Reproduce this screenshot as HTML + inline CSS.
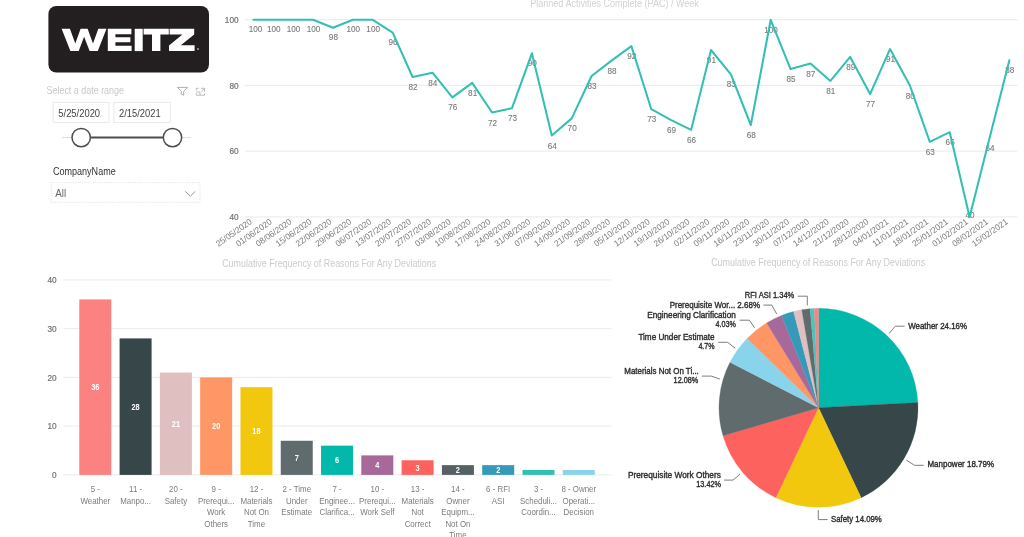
<!DOCTYPE html>
<html><head><meta charset="utf-8"><title>Dashboard</title>
<style>
html,body{margin:0;padding:0;background:#fff;}
body{width:1024px;height:537px;overflow:hidden;font-family:"Liberation Sans",sans-serif;}
svg{display:block;font-family:"Liberation Sans",sans-serif;filter:blur(0.45px);}
</style></head><body>
<svg width="1024" height="537" viewBox="0 0 1024 537">
<rect width="1024" height="537" fill="#fff"/>
<g id="logo">
<rect x="48.4" y="6" width="160.6" height="66.6" rx="8" ry="8" fill="#231f20"/>
<path fill="#fff" d="M61.6,28.8 L69.9,28.8 L75.3,43.5 L80.6,28.8 L87.6,28.8 L93,43.5 L98.3,28.8 L106.5,28.8 L97.8,51.1 L89.6,51.1 L84.1,36.8 L78.7,51.1 L70.4,51.1 Z"/>
<path fill="#fff" d="M107.8,28.8 H131.4 V34.2 H115.4 V37.3 H130.4 V42.3 H115.4 V45.7 H131.6 V51.1 H107.8 Z"/>
<rect fill="#fff" x="134.7" y="28.8" width="8" height="22.3"/>
<path fill="#fff" d="M143.6,28.8 H168.8 V34.6 H160.4 V51.1 H152 V34.6 H143.6 Z"/>
<path fill="#fff" d="M169.6,28.8 H194.2 V34.4 L180.8,45.3 H194.6 V51.1 H169 V45.5 L182.4,34.6 H169.6 Z"/>
<circle cx="198" cy="49" r="1.1" fill="#999"/>
</g>
<g id="slicer">
<text x="46.50" y="93.70" font-size="10" fill="#c8c8c8" text-anchor="start" textLength="77.5" lengthAdjust="spacingAndGlyphs" >Select a date range</text>
<path d="M177.4,87.4 H187.5 L183.7,91.4 V95.2 L181.2,94.2 V91.4 Z" fill="none" stroke="#9a9a9a" stroke-width="0.8" stroke-linejoin="round"/>
<path d="M196.3,90.5 V88.3 H198.6 M201,88.3 H204.6 V91.8 M204.6,88.3 L201.4,91.5 M204.6,93.6 V95.2 H196.3 V93 M200,95.2 V92 H196.3" fill="none" stroke="#aaa" stroke-width="0.8"/>
<rect x="53.2" y="102.5" width="55.8" height="20" fill="#fff" stroke="#e6e6e6" stroke-width="0.8"/>
<rect x="113.9" y="102.5" width="56.4" height="20" fill="#fff" stroke="#e6e6e6" stroke-width="0.8"/>
<text x="58.30" y="117.20" font-size="10" fill="#444" text-anchor="start" textLength="41.8" lengthAdjust="spacingAndGlyphs" >5/25/2020</text>
<text x="119.00" y="117.20" font-size="10" fill="#444" text-anchor="start" textLength="41.6" lengthAdjust="spacingAndGlyphs" >2/15/2021</text>
<line x1="62" y1="137.6" x2="191" y2="137.6" stroke="#ddd" stroke-width="1"/>
<line x1="81.2" y1="137.6" x2="172.5" y2="137.6" stroke="#4d4d4d" stroke-width="2"/>
<circle cx="81.2" cy="137.6" r="9.2" fill="#fff" stroke="#4d4d4d" stroke-width="1.5"/>
<circle cx="172.5" cy="137.6" r="9.2" fill="#fff" stroke="#4d4d4d" stroke-width="1.5"/>
<text x="53.00" y="175.00" font-size="10" fill="#333" text-anchor="start" textLength="62.7" lengthAdjust="spacingAndGlyphs" >CompanyName</text>
<rect x="51.2" y="182.6" width="148.8" height="19.7" fill="#fff" stroke="#e0e0e0" stroke-width="0.8" stroke-dasharray="1.2,1"/>
<text x="55.20" y="197.30" font-size="10" fill="#666" text-anchor="start" textLength="11.0" lengthAdjust="spacingAndGlyphs" >All</text>
<path d="M185.4,191.4 L190.3,196.2 L195.2,191.4" fill="none" stroke="#888" stroke-width="0.9"/>
</g>
<g id="linechart">
<text x="530.30" y="6.50" font-size="10" fill="#d2d2d2" text-anchor="start" textLength="168.5" lengthAdjust="spacingAndGlyphs" >Planned Activities Complete (PAC) / Week</text>
<line x1="245" y1="19.7" x2="1017.5" y2="19.7" stroke="#e4e4e4" stroke-width="0.8"/>
<text transform="translate(238.60,23.00) scale(0.87,1)" font-size="9.5" fill="#707070" text-anchor="end" stroke="#707070" stroke-width="0.2">100</text>
<line x1="245" y1="85.4" x2="1017.5" y2="85.4" stroke="#e4e4e4" stroke-width="0.8"/>
<text transform="translate(238.60,88.70) scale(0.87,1)" font-size="9.5" fill="#707070" text-anchor="end" stroke="#707070" stroke-width="0.2">80</text>
<line x1="245" y1="151.1" x2="1017.5" y2="151.1" stroke="#e4e4e4" stroke-width="0.8"/>
<text transform="translate(238.60,154.40) scale(0.87,1)" font-size="9.5" fill="#707070" text-anchor="end" stroke="#707070" stroke-width="0.2">60</text>
<line x1="245" y1="216.9" x2="1017.5" y2="216.9" stroke="#e4e4e4" stroke-width="0.8"/>
<text transform="translate(238.60,220.20) scale(0.87,1)" font-size="9.5" fill="#707070" text-anchor="end" stroke="#707070" stroke-width="0.2">40</text>
<text transform="translate(255.60,32.10) scale(0.85,1)" font-size="9.6" fill="#7a7a7a" text-anchor="middle" stroke="#7a7a7a" stroke-width="0.12">100</text>
<text transform="translate(273.69,32.10) scale(0.85,1)" font-size="9.6" fill="#7a7a7a" text-anchor="middle" stroke="#7a7a7a" stroke-width="0.12">100</text>
<text transform="translate(293.59,32.10) scale(0.85,1)" font-size="9.6" fill="#7a7a7a" text-anchor="middle" stroke="#7a7a7a" stroke-width="0.12">100</text>
<text transform="translate(313.49,32.10) scale(0.85,1)" font-size="9.6" fill="#7a7a7a" text-anchor="middle" stroke="#7a7a7a" stroke-width="0.12">100</text>
<text transform="translate(333.38,39.99) scale(0.85,1)" font-size="9.6" fill="#7a7a7a" text-anchor="middle" stroke="#7a7a7a" stroke-width="0.12">98</text>
<text transform="translate(353.27,32.10) scale(0.85,1)" font-size="9.6" fill="#7a7a7a" text-anchor="middle" stroke="#7a7a7a" stroke-width="0.12">100</text>
<text transform="translate(373.17,32.10) scale(0.85,1)" font-size="9.6" fill="#7a7a7a" text-anchor="middle" stroke="#7a7a7a" stroke-width="0.12">100</text>
<text transform="translate(393.06,44.92) scale(0.85,1)" font-size="9.6" fill="#7a7a7a" text-anchor="middle" stroke="#7a7a7a" stroke-width="0.12">96</text>
<text transform="translate(412.96,90.00) scale(0.85,1)" font-size="9.6" fill="#7a7a7a" text-anchor="middle" stroke="#7a7a7a" stroke-width="0.12">82</text>
<text transform="translate(432.86,85.73) scale(0.85,1)" font-size="9.6" fill="#7a7a7a" text-anchor="middle" stroke="#7a7a7a" stroke-width="0.12">84</text>
<text transform="translate(452.75,110.38) scale(0.85,1)" font-size="9.6" fill="#7a7a7a" text-anchor="middle" stroke="#7a7a7a" stroke-width="0.12">76</text>
<text transform="translate(472.64,95.92) scale(0.85,1)" font-size="9.6" fill="#7a7a7a" text-anchor="middle" stroke="#7a7a7a" stroke-width="0.12">81</text>
<text transform="translate(492.54,125.51) scale(0.85,1)" font-size="9.6" fill="#7a7a7a" text-anchor="middle" stroke="#7a7a7a" stroke-width="0.12">72</text>
<text transform="translate(512.43,121.23) scale(0.85,1)" font-size="9.6" fill="#7a7a7a" text-anchor="middle" stroke="#7a7a7a" stroke-width="0.12">73</text>
<text transform="translate(532.33,66.33) scale(0.85,1)" font-size="9.6" fill="#7a7a7a" text-anchor="middle" stroke="#7a7a7a" stroke-width="0.12">90</text>
<text transform="translate(552.23,148.52) scale(0.85,1)" font-size="9.6" fill="#7a7a7a" text-anchor="middle" stroke="#7a7a7a" stroke-width="0.12">64</text>
<text transform="translate(572.12,131.42) scale(0.85,1)" font-size="9.6" fill="#7a7a7a" text-anchor="middle" stroke="#7a7a7a" stroke-width="0.12">70</text>
<text transform="translate(592.01,89.02) scale(0.85,1)" font-size="9.6" fill="#7a7a7a" text-anchor="middle" stroke="#7a7a7a" stroke-width="0.12">83</text>
<text transform="translate(611.91,73.57) scale(0.85,1)" font-size="9.6" fill="#7a7a7a" text-anchor="middle" stroke="#7a7a7a" stroke-width="0.12">88</text>
<text transform="translate(631.80,59.10) scale(0.85,1)" font-size="9.6" fill="#7a7a7a" text-anchor="middle" stroke="#7a7a7a" stroke-width="0.12">92</text>
<text transform="translate(651.70,122.22) scale(0.85,1)" font-size="9.6" fill="#7a7a7a" text-anchor="middle" stroke="#7a7a7a" stroke-width="0.12">73</text>
<text transform="translate(671.60,133.07) scale(0.85,1)" font-size="9.6" fill="#7a7a7a" text-anchor="middle" stroke="#7a7a7a" stroke-width="0.12">69</text>
<text transform="translate(691.49,142.93) scale(0.85,1)" font-size="9.6" fill="#7a7a7a" text-anchor="middle" stroke="#7a7a7a" stroke-width="0.12">66</text>
<text transform="translate(711.38,63.05) scale(0.85,1)" font-size="9.6" fill="#7a7a7a" text-anchor="middle" stroke="#7a7a7a" stroke-width="0.12">91</text>
<text transform="translate(731.28,87.37) scale(0.85,1)" font-size="9.6" fill="#7a7a7a" text-anchor="middle" stroke="#7a7a7a" stroke-width="0.12">83</text>
<text transform="translate(751.17,138.00) scale(0.85,1)" font-size="9.6" fill="#7a7a7a" text-anchor="middle" stroke="#7a7a7a" stroke-width="0.12">68</text>
<text transform="translate(771.07,32.80) scale(0.85,1)" font-size="9.6" fill="#7a7a7a" text-anchor="middle" stroke="#7a7a7a" stroke-width="0.12">100</text>
<text transform="translate(790.96,82.11) scale(0.85,1)" font-size="9.6" fill="#7a7a7a" text-anchor="middle" stroke="#7a7a7a" stroke-width="0.12">85</text>
<text transform="translate(810.86,76.52) scale(0.85,1)" font-size="9.6" fill="#7a7a7a" text-anchor="middle" stroke="#7a7a7a" stroke-width="0.12">87</text>
<text transform="translate(830.75,93.95) scale(0.85,1)" font-size="9.6" fill="#7a7a7a" text-anchor="middle" stroke="#7a7a7a" stroke-width="0.12">81</text>
<text transform="translate(850.65,69.95) scale(0.85,1)" font-size="9.6" fill="#7a7a7a" text-anchor="middle" stroke="#7a7a7a" stroke-width="0.12">89</text>
<text transform="translate(870.54,107.10) scale(0.85,1)" font-size="9.6" fill="#7a7a7a" text-anchor="middle" stroke="#7a7a7a" stroke-width="0.12">77</text>
<text transform="translate(890.44,62.06) scale(0.85,1)" font-size="9.6" fill="#7a7a7a" text-anchor="middle" stroke="#7a7a7a" stroke-width="0.12">91</text>
<text transform="translate(910.33,98.55) scale(0.85,1)" font-size="9.6" fill="#7a7a7a" text-anchor="middle" stroke="#7a7a7a" stroke-width="0.12">80</text>
<text transform="translate(930.23,154.77) scale(0.85,1)" font-size="9.6" fill="#7a7a7a" text-anchor="middle" stroke="#7a7a7a" stroke-width="0.12">63</text>
<text transform="translate(950.12,145.23) scale(0.85,1)" font-size="9.6" fill="#7a7a7a" text-anchor="middle" stroke="#7a7a7a" stroke-width="0.12">66</text>
<text transform="translate(970.02,218.35) scale(0.85,1)" font-size="9.6" fill="#7a7a7a" text-anchor="middle" stroke="#7a7a7a" stroke-width="0.12">40</text>
<text transform="translate(989.91,151.15) scale(0.85,1)" font-size="9.6" fill="#7a7a7a" text-anchor="middle" stroke="#7a7a7a" stroke-width="0.12">64</text>
<text transform="translate(1009.81,73.24) scale(0.85,1)" font-size="9.6" fill="#7a7a7a" text-anchor="middle" stroke="#7a7a7a" stroke-width="0.12">88</text>
<polyline fill="none" stroke="#33c0b3" stroke-width="2.05" stroke-linejoin="round" stroke-linecap="round" points="253.4,19.8 273.3,19.8 293.2,19.8 313.1,19.8 333.0,27.7 352.9,19.8 372.8,19.8 392.7,32.6 412.6,77.0 432.5,72.7 452.4,97.4 472.2,82.9 492.1,112.5 512.0,108.2 531.9,53.3 551.8,135.5 571.7,118.4 591.6,76.0 611.5,60.6 631.4,46.1 651.3,109.2 671.2,120.1 691.1,129.9 711.0,50.0 730.9,74.4 750.8,125.0 770.7,19.8 790.6,69.1 810.5,63.5 830.4,80.9 850.2,56.9 870.1,94.1 890.0,49.1 909.9,85.5 929.8,141.8 949.7,132.2 969.6,217.1 989.5,138.2 1009.4,60.2"/>
<text transform="translate(252.6,223.1) rotate(-35)" font-size="8.7" fill="#7c7c7c" text-anchor="end" textLength="41.6" lengthAdjust="spacingAndGlyphs">25/05/2020</text>
<text transform="translate(272.5,223.1) rotate(-35)" font-size="8.7" fill="#7c7c7c" text-anchor="end" textLength="41.6" lengthAdjust="spacingAndGlyphs">01/06/2020</text>
<text transform="translate(292.4,223.1) rotate(-35)" font-size="8.7" fill="#7c7c7c" text-anchor="end" textLength="41.6" lengthAdjust="spacingAndGlyphs">08/06/2020</text>
<text transform="translate(312.3,223.1) rotate(-35)" font-size="8.7" fill="#7c7c7c" text-anchor="end" textLength="41.6" lengthAdjust="spacingAndGlyphs">15/06/2020</text>
<text transform="translate(332.2,223.1) rotate(-35)" font-size="8.7" fill="#7c7c7c" text-anchor="end" textLength="41.6" lengthAdjust="spacingAndGlyphs">22/06/2020</text>
<text transform="translate(352.1,223.1) rotate(-35)" font-size="8.7" fill="#7c7c7c" text-anchor="end" textLength="41.6" lengthAdjust="spacingAndGlyphs">29/06/2020</text>
<text transform="translate(372.0,223.1) rotate(-35)" font-size="8.7" fill="#7c7c7c" text-anchor="end" textLength="41.6" lengthAdjust="spacingAndGlyphs">06/07/2020</text>
<text transform="translate(391.9,223.1) rotate(-35)" font-size="8.7" fill="#7c7c7c" text-anchor="end" textLength="41.6" lengthAdjust="spacingAndGlyphs">13/07/2020</text>
<text transform="translate(411.8,223.1) rotate(-35)" font-size="8.7" fill="#7c7c7c" text-anchor="end" textLength="41.6" lengthAdjust="spacingAndGlyphs">20/07/2020</text>
<text transform="translate(431.7,223.1) rotate(-35)" font-size="8.7" fill="#7c7c7c" text-anchor="end" textLength="41.6" lengthAdjust="spacingAndGlyphs">27/07/2020</text>
<text transform="translate(451.6,223.1) rotate(-35)" font-size="8.7" fill="#7c7c7c" text-anchor="end" textLength="41.6" lengthAdjust="spacingAndGlyphs">03/08/2020</text>
<text transform="translate(471.4,223.1) rotate(-35)" font-size="8.7" fill="#7c7c7c" text-anchor="end" textLength="41.6" lengthAdjust="spacingAndGlyphs">10/08/2020</text>
<text transform="translate(491.3,223.1) rotate(-35)" font-size="8.7" fill="#7c7c7c" text-anchor="end" textLength="41.6" lengthAdjust="spacingAndGlyphs">17/08/2020</text>
<text transform="translate(511.2,223.1) rotate(-35)" font-size="8.7" fill="#7c7c7c" text-anchor="end" textLength="41.6" lengthAdjust="spacingAndGlyphs">24/08/2020</text>
<text transform="translate(531.1,223.1) rotate(-35)" font-size="8.7" fill="#7c7c7c" text-anchor="end" textLength="41.6" lengthAdjust="spacingAndGlyphs">31/08/2020</text>
<text transform="translate(551.0,223.1) rotate(-35)" font-size="8.7" fill="#7c7c7c" text-anchor="end" textLength="41.6" lengthAdjust="spacingAndGlyphs">07/09/2020</text>
<text transform="translate(570.9,223.1) rotate(-35)" font-size="8.7" fill="#7c7c7c" text-anchor="end" textLength="41.6" lengthAdjust="spacingAndGlyphs">14/09/2020</text>
<text transform="translate(590.8,223.1) rotate(-35)" font-size="8.7" fill="#7c7c7c" text-anchor="end" textLength="41.6" lengthAdjust="spacingAndGlyphs">21/09/2020</text>
<text transform="translate(610.7,223.1) rotate(-35)" font-size="8.7" fill="#7c7c7c" text-anchor="end" textLength="41.6" lengthAdjust="spacingAndGlyphs">28/09/2020</text>
<text transform="translate(630.6,223.1) rotate(-35)" font-size="8.7" fill="#7c7c7c" text-anchor="end" textLength="41.6" lengthAdjust="spacingAndGlyphs">05/10/2020</text>
<text transform="translate(650.5,223.1) rotate(-35)" font-size="8.7" fill="#7c7c7c" text-anchor="end" textLength="41.6" lengthAdjust="spacingAndGlyphs">12/10/2020</text>
<text transform="translate(670.4,223.1) rotate(-35)" font-size="8.7" fill="#7c7c7c" text-anchor="end" textLength="41.6" lengthAdjust="spacingAndGlyphs">19/10/2020</text>
<text transform="translate(690.3,223.1) rotate(-35)" font-size="8.7" fill="#7c7c7c" text-anchor="end" textLength="41.6" lengthAdjust="spacingAndGlyphs">26/10/2020</text>
<text transform="translate(710.2,223.1) rotate(-35)" font-size="8.7" fill="#7c7c7c" text-anchor="end" textLength="41.6" lengthAdjust="spacingAndGlyphs">02/11/2020</text>
<text transform="translate(730.1,223.1) rotate(-35)" font-size="8.7" fill="#7c7c7c" text-anchor="end" textLength="41.6" lengthAdjust="spacingAndGlyphs">09/11/2020</text>
<text transform="translate(750.0,223.1) rotate(-35)" font-size="8.7" fill="#7c7c7c" text-anchor="end" textLength="41.6" lengthAdjust="spacingAndGlyphs">16/11/2020</text>
<text transform="translate(769.9,223.1) rotate(-35)" font-size="8.7" fill="#7c7c7c" text-anchor="end" textLength="41.6" lengthAdjust="spacingAndGlyphs">23/11/2020</text>
<text transform="translate(789.8,223.1) rotate(-35)" font-size="8.7" fill="#7c7c7c" text-anchor="end" textLength="41.6" lengthAdjust="spacingAndGlyphs">30/11/2020</text>
<text transform="translate(809.7,223.1) rotate(-35)" font-size="8.7" fill="#7c7c7c" text-anchor="end" textLength="41.6" lengthAdjust="spacingAndGlyphs">07/12/2020</text>
<text transform="translate(829.6,223.1) rotate(-35)" font-size="8.7" fill="#7c7c7c" text-anchor="end" textLength="41.6" lengthAdjust="spacingAndGlyphs">14/12/2020</text>
<text transform="translate(849.5,223.1) rotate(-35)" font-size="8.7" fill="#7c7c7c" text-anchor="end" textLength="41.6" lengthAdjust="spacingAndGlyphs">21/12/2020</text>
<text transform="translate(869.3,223.1) rotate(-35)" font-size="8.7" fill="#7c7c7c" text-anchor="end" textLength="41.6" lengthAdjust="spacingAndGlyphs">28/12/2020</text>
<text transform="translate(889.2,223.1) rotate(-35)" font-size="8.7" fill="#7c7c7c" text-anchor="end" textLength="41.6" lengthAdjust="spacingAndGlyphs">04/01/2021</text>
<text transform="translate(909.1,223.1) rotate(-35)" font-size="8.7" fill="#7c7c7c" text-anchor="end" textLength="41.6" lengthAdjust="spacingAndGlyphs">11/01/2021</text>
<text transform="translate(929.0,223.1) rotate(-35)" font-size="8.7" fill="#7c7c7c" text-anchor="end" textLength="41.6" lengthAdjust="spacingAndGlyphs">18/01/2021</text>
<text transform="translate(948.9,223.1) rotate(-35)" font-size="8.7" fill="#7c7c7c" text-anchor="end" textLength="41.6" lengthAdjust="spacingAndGlyphs">25/01/2021</text>
<text transform="translate(968.8,223.1) rotate(-35)" font-size="8.7" fill="#7c7c7c" text-anchor="end" textLength="41.6" lengthAdjust="spacingAndGlyphs">01/02/2021</text>
<text transform="translate(988.7,223.1) rotate(-35)" font-size="8.7" fill="#7c7c7c" text-anchor="end" textLength="41.6" lengthAdjust="spacingAndGlyphs">08/02/2021</text>
<text transform="translate(1008.6,223.1) rotate(-35)" font-size="8.7" fill="#7c7c7c" text-anchor="end" textLength="41.6" lengthAdjust="spacingAndGlyphs">15/02/2021</text>
</g>
<g id="barchart">
<text x="222.20" y="267.30" font-size="10" fill="#cbcbcb" text-anchor="start" textLength="214.0" lengthAdjust="spacingAndGlyphs" >Cumulative Frequency of Reasons For Any Deviations</text>
<line x1="63.4" y1="474.90" x2="611.5" y2="474.90" stroke="#e6e6e6" stroke-width="0.8"/>
<text transform="translate(56.60,478.20) scale(0.87,1)" font-size="9.5" fill="#707070" text-anchor="end" stroke="#707070" stroke-width="0.2">0</text>
<line x1="63.4" y1="426.15" x2="611.5" y2="426.15" stroke="#e6e6e6" stroke-width="0.8"/>
<text transform="translate(56.60,429.45) scale(0.87,1)" font-size="9.5" fill="#707070" text-anchor="end" stroke="#707070" stroke-width="0.2">10</text>
<line x1="63.4" y1="377.40" x2="611.5" y2="377.40" stroke="#e6e6e6" stroke-width="0.8"/>
<text transform="translate(56.60,380.70) scale(0.87,1)" font-size="9.5" fill="#707070" text-anchor="end" stroke="#707070" stroke-width="0.2">20</text>
<line x1="63.4" y1="328.65" x2="611.5" y2="328.65" stroke="#e6e6e6" stroke-width="0.8"/>
<text transform="translate(56.60,331.95) scale(0.87,1)" font-size="9.5" fill="#707070" text-anchor="end" stroke="#707070" stroke-width="0.2">30</text>
<line x1="63.4" y1="279.90" x2="611.5" y2="279.90" stroke="#e6e6e6" stroke-width="0.8"/>
<text transform="translate(56.60,283.20) scale(0.87,1)" font-size="9.5" fill="#707070" text-anchor="end" stroke="#707070" stroke-width="0.2">40</text>
<rect x="79.30" y="299.40" width="32" height="175.50" fill="#FB8281"/>
<text transform="translate(95.30,390.15) scale(0.88,1)" font-size="8.4" fill="#fff" text-anchor="middle" font-weight="bold" >36</text>
<text transform="translate(95.30,492.40) scale(0.9,1)" font-size="8.8" fill="#7c7c7c" text-anchor="middle" >5 -</text>
<text transform="translate(95.30,503.80) scale(0.9,1)" font-size="8.8" fill="#7c7c7c" text-anchor="middle" >Weather</text>
<rect x="119.59" y="338.40" width="32" height="136.50" fill="#374649"/>
<text transform="translate(135.59,409.65) scale(0.88,1)" font-size="8.4" fill="#fff" text-anchor="middle" font-weight="bold" >28</text>
<text transform="translate(135.59,492.40) scale(0.9,1)" font-size="8.8" fill="#7c7c7c" text-anchor="middle" >11 -</text>
<text transform="translate(135.59,503.80) scale(0.9,1)" font-size="8.8" fill="#7c7c7c" text-anchor="middle" >Manpo...</text>
<rect x="159.88" y="372.52" width="32" height="102.38" fill="#DFBFBF"/>
<text transform="translate(175.88,426.71) scale(0.88,1)" font-size="8.4" fill="#fff" text-anchor="middle" font-weight="bold" >21</text>
<text transform="translate(175.88,492.40) scale(0.9,1)" font-size="8.8" fill="#7c7c7c" text-anchor="middle" >20 -</text>
<text transform="translate(175.88,503.80) scale(0.9,1)" font-size="8.8" fill="#7c7c7c" text-anchor="middle" >Safety</text>
<rect x="200.17" y="377.40" width="32" height="97.50" fill="#FE9666"/>
<text transform="translate(216.17,429.15) scale(0.88,1)" font-size="8.4" fill="#fff" text-anchor="middle" font-weight="bold" >20</text>
<text transform="translate(216.17,492.40) scale(0.9,1)" font-size="8.8" fill="#7c7c7c" text-anchor="middle" >9 -</text>
<text transform="translate(216.17,503.80) scale(0.9,1)" font-size="8.8" fill="#7c7c7c" text-anchor="middle" >Prerequi...</text>
<text transform="translate(216.17,515.20) scale(0.9,1)" font-size="8.8" fill="#7c7c7c" text-anchor="middle" >Work</text>
<text transform="translate(216.17,526.60) scale(0.9,1)" font-size="8.8" fill="#7c7c7c" text-anchor="middle" >Others</text>
<rect x="240.46" y="387.15" width="32" height="87.75" fill="#F2C80F"/>
<text transform="translate(256.46,434.02) scale(0.88,1)" font-size="8.4" fill="#fff" text-anchor="middle" font-weight="bold" >18</text>
<text transform="translate(256.46,492.40) scale(0.9,1)" font-size="8.8" fill="#7c7c7c" text-anchor="middle" >12 -</text>
<text transform="translate(256.46,503.80) scale(0.9,1)" font-size="8.8" fill="#7c7c7c" text-anchor="middle" >Materials</text>
<text transform="translate(256.46,515.20) scale(0.9,1)" font-size="8.8" fill="#7c7c7c" text-anchor="middle" >Not On</text>
<text transform="translate(256.46,526.60) scale(0.9,1)" font-size="8.8" fill="#7c7c7c" text-anchor="middle" >Time</text>
<rect x="280.75" y="440.77" width="32" height="34.12" fill="#5F6B6D"/>
<text transform="translate(296.75,460.84) scale(0.88,1)" font-size="8.4" fill="#fff" text-anchor="middle" font-weight="bold" >7</text>
<text transform="translate(296.75,492.40) scale(0.9,1)" font-size="8.8" fill="#7c7c7c" text-anchor="middle" >2 - Time</text>
<text transform="translate(296.75,503.80) scale(0.9,1)" font-size="8.8" fill="#7c7c7c" text-anchor="middle" >Under</text>
<text transform="translate(296.75,515.20) scale(0.9,1)" font-size="8.8" fill="#7c7c7c" text-anchor="middle" >Estimate</text>
<rect x="321.04" y="445.65" width="32" height="29.25" fill="#01B8AA"/>
<text transform="translate(337.04,463.27) scale(0.88,1)" font-size="8.4" fill="#fff" text-anchor="middle" font-weight="bold" >6</text>
<text transform="translate(337.04,492.40) scale(0.9,1)" font-size="8.8" fill="#7c7c7c" text-anchor="middle" >7 -</text>
<text transform="translate(337.04,503.80) scale(0.9,1)" font-size="8.8" fill="#7c7c7c" text-anchor="middle" >Enginee...</text>
<text transform="translate(337.04,515.20) scale(0.9,1)" font-size="8.8" fill="#7c7c7c" text-anchor="middle" >Clarifica...</text>
<rect x="361.33" y="455.40" width="32" height="19.50" fill="#A66999"/>
<text transform="translate(377.33,468.15) scale(0.88,1)" font-size="8.4" fill="#fff" text-anchor="middle" font-weight="bold" >4</text>
<text transform="translate(377.33,492.40) scale(0.9,1)" font-size="8.8" fill="#7c7c7c" text-anchor="middle" >10 -</text>
<text transform="translate(377.33,503.80) scale(0.9,1)" font-size="8.8" fill="#7c7c7c" text-anchor="middle" >Prerequi...</text>
<text transform="translate(377.33,515.20) scale(0.9,1)" font-size="8.8" fill="#7c7c7c" text-anchor="middle" >Work Self</text>
<rect x="401.62" y="460.27" width="32" height="14.62" fill="#FD625E"/>
<text transform="translate(417.62,470.59) scale(0.88,1)" font-size="8.4" fill="#fff" text-anchor="middle" font-weight="bold" >3</text>
<text transform="translate(417.62,492.40) scale(0.9,1)" font-size="8.8" fill="#7c7c7c" text-anchor="middle" >13 -</text>
<text transform="translate(417.62,503.80) scale(0.9,1)" font-size="8.8" fill="#7c7c7c" text-anchor="middle" >Materials</text>
<text transform="translate(417.62,515.20) scale(0.9,1)" font-size="8.8" fill="#7c7c7c" text-anchor="middle" >Not</text>
<text transform="translate(417.62,526.60) scale(0.9,1)" font-size="8.8" fill="#7c7c7c" text-anchor="middle" >Correct</text>
<rect x="441.91" y="465.15" width="32" height="9.75" fill="#566164"/>
<text transform="translate(457.91,473.02) scale(0.88,1)" font-size="8.4" fill="#fff" text-anchor="middle" font-weight="bold" >2</text>
<text transform="translate(457.91,492.40) scale(0.9,1)" font-size="8.8" fill="#7c7c7c" text-anchor="middle" >14 -</text>
<text transform="translate(457.91,503.80) scale(0.9,1)" font-size="8.8" fill="#7c7c7c" text-anchor="middle" >Owner</text>
<text transform="translate(457.91,515.20) scale(0.9,1)" font-size="8.8" fill="#7c7c7c" text-anchor="middle" >Equipm...</text>
<text transform="translate(457.91,526.60) scale(0.9,1)" font-size="8.8" fill="#7c7c7c" text-anchor="middle" >Not On</text>
<text transform="translate(457.91,538.00) scale(0.9,1)" font-size="8.8" fill="#7c7c7c" text-anchor="middle" >Time</text>
<rect x="482.20" y="465.15" width="32" height="9.75" fill="#3599B8"/>
<text transform="translate(498.20,473.02) scale(0.88,1)" font-size="8.4" fill="#fff" text-anchor="middle" font-weight="bold" >2</text>
<text transform="translate(498.20,492.40) scale(0.9,1)" font-size="8.8" fill="#7c7c7c" text-anchor="middle" >6 - RFI</text>
<text transform="translate(498.20,503.80) scale(0.9,1)" font-size="8.8" fill="#7c7c7c" text-anchor="middle" >ASI</text>
<rect x="522.49" y="470.02" width="32" height="4.88" fill="#2FC0B4"/>
<text transform="translate(538.49,492.40) scale(0.9,1)" font-size="8.8" fill="#7c7c7c" text-anchor="middle" >3 -</text>
<text transform="translate(538.49,503.80) scale(0.9,1)" font-size="8.8" fill="#7c7c7c" text-anchor="middle" >Scheduli...</text>
<text transform="translate(538.49,515.20) scale(0.9,1)" font-size="8.8" fill="#7c7c7c" text-anchor="middle" >Coordin...</text>
<rect x="562.78" y="470.02" width="32" height="4.88" fill="#8AD4EB"/>
<text transform="translate(578.78,492.40) scale(0.9,1)" font-size="8.8" fill="#7c7c7c" text-anchor="middle" >8 - Owner</text>
<text transform="translate(578.78,503.80) scale(0.9,1)" font-size="8.8" fill="#7c7c7c" text-anchor="middle" >Operati...</text>
<text transform="translate(578.78,515.20) scale(0.9,1)" font-size="8.8" fill="#7c7c7c" text-anchor="middle" >Decision</text>
</g>
<g id="pie">
<text x="711.20" y="266.40" font-size="10" fill="#cbcbcb" text-anchor="start" textLength="214.0" lengthAdjust="spacingAndGlyphs" >Cumulative Frequency of Reasons For Any Deviations</text>
<path d="M818.5,407.8 L818.50,308.30 A99.5,99.5 0 0 1 917.86,402.56 Z" fill="#01B8AA" stroke="#01B8AA" stroke-width="0.3"/>
<path d="M818.5,407.8 L917.86,402.56 A99.5,99.5 0 0 1 861.13,497.70 Z" fill="#374649" stroke="#374649" stroke-width="0.3"/>
<path d="M818.5,407.8 L861.13,497.70 A99.5,99.5 0 0 1 775.87,497.70 Z" fill="#F2C80F" stroke="#F2C80F" stroke-width="0.3"/>
<path d="M818.5,407.8 L775.87,497.70 A99.5,99.5 0 0 1 723.00,435.74 Z" fill="#FD625E" stroke="#FD625E" stroke-width="0.3"/>
<path d="M818.5,407.8 L723.00,435.74 A99.5,99.5 0 0 1 729.99,362.35 Z" fill="#5F6B6D" stroke="#5F6B6D" stroke-width="0.3"/>
<path d="M818.5,407.8 L729.99,362.35 A99.5,99.5 0 0 1 747.04,338.56 Z" fill="#8AD4EB" stroke="#8AD4EB" stroke-width="0.3"/>
<path d="M818.5,407.8 L747.04,338.56 A99.5,99.5 0 0 1 766.65,322.88 Z" fill="#FE9666" stroke="#FE9666" stroke-width="0.3"/>
<path d="M818.5,407.8 L766.65,322.88 A99.5,99.5 0 0 1 781.64,315.38 Z" fill="#A66999" stroke="#A66999" stroke-width="0.3"/>
<path d="M818.5,407.8 L781.64,315.38 A99.5,99.5 0 0 1 793.59,311.47 Z" fill="#3599B8" stroke="#3599B8" stroke-width="0.3"/>
<path d="M818.5,407.8 L793.59,311.47 A99.5,99.5 0 0 1 801.80,309.71 Z" fill="#DFBFBF" stroke="#DFBFBF" stroke-width="0.3"/>
<path d="M818.5,407.8 L801.80,309.71 A99.5,99.5 0 0 1 810.12,308.65 Z" fill="#5F6B6D" stroke="#5F6B6D" stroke-width="0.3"/>
<path d="M818.5,407.8 L810.12,308.65 A99.5,99.5 0 0 1 814.31,308.39 Z" fill="#4AC5BB" stroke="#4AC5BB" stroke-width="0.3"/>
<path d="M818.5,407.8 L814.31,308.39 A99.5,99.5 0 0 1 818.50,308.30 Z" fill="#FB8281" stroke="#FB8281" stroke-width="0.3"/>
<polyline fill="none" stroke="#7d7d7d" stroke-width="1" points="888.9,333.7 895.3,326.2 904.6,326.2"/>
<text x="908.20" y="328.50" font-size="9" fill="#2c2c2c" text-anchor="start" textLength="58.9" lengthAdjust="spacingAndGlyphs" stroke="#2c2c2c" stroke-width="0.38">Weather 24.16%</text>
<polyline fill="none" stroke="#7d7d7d" stroke-width="1" points="906.2,460 914.5,465.3 923.7,465.3"/>
<text x="927.40" y="467.40" font-size="9" fill="#2c2c2c" text-anchor="start" textLength="66.7" lengthAdjust="spacingAndGlyphs" stroke="#2c2c2c" stroke-width="0.38">Manpower 18.79%</text>
<polyline fill="none" stroke="#7d7d7d" stroke-width="1" points="818.3,510.1 818.3,519.6 827.6,519.6"/>
<text x="831.00" y="522.40" font-size="9" fill="#2c2c2c" text-anchor="start" textLength="50.8" lengthAdjust="spacingAndGlyphs" stroke="#2c2c2c" stroke-width="0.38">Safety 14.09%</text>
<polyline fill="none" stroke="#7d7d7d" stroke-width="1" points="724.1,480.1 733,480.1 740,474.2"/>
<text x="720.90" y="477.60" font-size="9" fill="#2c2c2c" text-anchor="end" textLength="93.0" lengthAdjust="spacingAndGlyphs" stroke="#2c2c2c" stroke-width="0.38">Prerequisite Work Others</text>
<text x="720.90" y="486.90" font-size="9" fill="#2c2c2c" text-anchor="end" textLength="24.6" lengthAdjust="spacingAndGlyphs" stroke="#2c2c2c" stroke-width="0.38">13.42%</text>
<polyline fill="none" stroke="#7d7d7d" stroke-width="1" points="701.9,376.1 711.3,376.1 719.9,379.1"/>
<text x="698.80" y="374.30" font-size="9" fill="#2c2c2c" text-anchor="end" textLength="74.5" lengthAdjust="spacingAndGlyphs" stroke="#2c2c2c" stroke-width="0.38">Materials Not On Ti...</text>
<text x="698.30" y="383.00" font-size="9" fill="#2c2c2c" text-anchor="end" textLength="24.7" lengthAdjust="spacingAndGlyphs" stroke="#2c2c2c" stroke-width="0.38">12.08%</text>
<polyline fill="none" stroke="#7d7d7d" stroke-width="1" points="718.1,342.3 727.7,342.3 735.2,348.3"/>
<text x="714.60" y="340.10" font-size="9" fill="#2c2c2c" text-anchor="end" textLength="76.2" lengthAdjust="spacingAndGlyphs" stroke="#2c2c2c" stroke-width="0.38">Time Under Estimate</text>
<text x="714.60" y="348.90" font-size="9" fill="#2c2c2c" text-anchor="end" textLength="16.2" lengthAdjust="spacingAndGlyphs" stroke="#2c2c2c" stroke-width="0.38">4.7%</text>
<polyline fill="none" stroke="#7d7d7d" stroke-width="1" points="739.6,320.2 749.3,320.2 754.7,327.9"/>
<text x="735.80" y="317.70" font-size="9" fill="#2c2c2c" text-anchor="end" textLength="88.6" lengthAdjust="spacingAndGlyphs" stroke="#2c2c2c" stroke-width="0.38">Engineering Clarification</text>
<text x="735.80" y="326.60" font-size="9" fill="#2c2c2c" text-anchor="end" textLength="20.3" lengthAdjust="spacingAndGlyphs" stroke="#2c2c2c" stroke-width="0.38">4.03%</text>
<polyline fill="none" stroke="#7d7d7d" stroke-width="1" points="763.4,305.1 771.8,305.1 776.8,314.2"/>
<text x="760.00" y="307.70" font-size="9" fill="#2c2c2c" text-anchor="end" textLength="90.3" lengthAdjust="spacingAndGlyphs" stroke="#2c2c2c" stroke-width="0.38">Prerequisite Wor... 2.68%</text>
<polyline fill="none" stroke="#7d7d7d" stroke-width="1" points="797.8,296.2 807.3,296.2 807.3,305.4"/>
<text x="794.30" y="298.10" font-size="9" fill="#2c2c2c" text-anchor="end" textLength="49.5" lengthAdjust="spacingAndGlyphs" stroke="#2c2c2c" stroke-width="0.38">RFI ASI 1.34%</text>
</g>
</svg>
</body></html>
